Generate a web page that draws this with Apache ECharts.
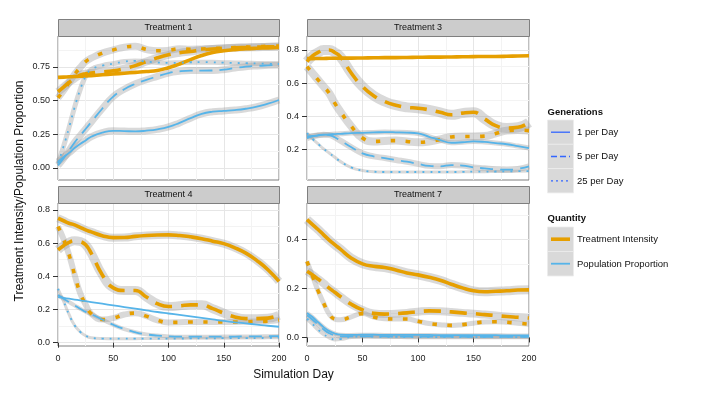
<!DOCTYPE html>
<html><head><meta charset="utf-8">
<script src="https://cdn.jsdelivr.net/npm/echarts@6/dist/echarts.min.js"></script>
<style>html,body{margin:0;padding:0;background:#fff}#c{width:709px;height:393px}</style>
</head><body><div id="c"></div>
<script>
// ---------- data ----------
const days = [0,5,10,15,20,25,30,40,50,60,70,80,90,100,110,120,130,140,150,160,170,180,190,200];
const panelTitles = ['Treatment 1','Treatment 3','Treatment 4','Treatment 7'];
const generationLabels = ['1 per Day','5 per Day','25 per Day'];
const quantityLabels = ['Treatment Intensity','Population Proportion'];
const xTicks = [0,50,100,150,200];
const xMinorTicks = [25,75,125,175];
const yTicks = [[0,0.25,0.5,0.75],[0.2,0.4,0.6,0.8],[0,0.2,0.4,0.6,0.8],[0,0.2,0.4]];
const yTickLabels = [['0.00','0.25','0.50','0.75'],['0.2','0.4','0.6','0.8'],['0.0','0.2','0.4','0.6','0.8'],['0.0','0.2','0.4']];
const yMinorTicks = [[0.125,0.375,0.625,0.875],[0.1,0.3,0.5,0.7],[0.1,0.3,0.5,0.7],[0.1,0.3,0.5]];
const xTitle = 'Simulation Day';
const yTitle = 'Treatment Intensity/Population Proportion';
const legendTitles = ['Generations','Quantity'];

// Treatment 1
const t1_ti_1  = [0.673,0.675,0.677,0.679,0.681,0.683,0.686,0.692,0.698,0.704,0.710,0.716,0.724,0.745,0.772,0.805,0.835,0.857,0.870,0.879,0.885,0.889,0.892,0.895];
const t1_ti_5  = [0.566,0.600,0.636,0.665,0.690,0.700,0.705,0.713,0.722,0.738,0.760,0.790,0.818,0.840,0.855,0.865,0.877,0.884,0.889,0.893,0.895,0.897,0.899,0.900];
const t1_ti_25 = [0.520,0.575,0.635,0.695,0.745,0.790,0.815,0.853,0.877,0.897,0.903,0.880,0.870,0.874,0.885,0.882,0.884,0.887,0.890,0.894,0.897,0.900,0.904,0.906];
const t1_pp_1  = [0.047,0.080,0.112,0.148,0.178,0.205,0.232,0.262,0.276,0.274,0.272,0.277,0.287,0.305,0.335,0.370,0.402,0.418,0.424,0.430,0.440,0.455,0.478,0.505];
const t1_pp_5  = [0.020,0.070,0.130,0.190,0.240,0.290,0.340,0.440,0.530,0.585,0.625,0.655,0.680,0.705,0.718,0.723,0.723,0.724,0.730,0.742,0.752,0.758,0.762,0.765];
const t1_pp_25 = [0.035,0.160,0.300,0.450,0.580,0.680,0.730,0.760,0.775,0.790,0.795,0.790,0.783,0.780,0.782,0.785,0.786,0.785,0.782,0.780,0.778,0.776,0.774,0.772];
// Treatment 3
const t3_ti_1  = [0.748,0.748,0.749,0.749,0.750,0.750,0.751,0.751,0.752,0.753,0.754,0.754,0.755,0.756,0.757,0.757,0.758,0.759,0.760,0.761,0.761,0.762,0.764,0.765];
const t3_ti_5  = [0.730,0.765,0.785,0.800,0.800,0.785,0.760,0.660,0.580,0.525,0.490,0.468,0.455,0.450,0.440,0.425,0.410,0.420,0.425,0.385,0.345,0.330,0.335,0.364];
const t3_ti_25 = [0.700,0.660,0.620,0.580,0.540,0.480,0.430,0.340,0.270,0.250,0.253,0.255,0.250,0.245,0.250,0.262,0.277,0.280,0.280,0.282,0.298,0.315,0.318,0.315];
const t3_pp_1  = [0.280,0.283,0.287,0.290,0.292,0.294,0.296,0.300,0.302,0.304,0.306,0.305,0.303,0.298,0.278,0.258,0.242,0.245,0.250,0.247,0.240,0.233,0.222,0.210];
const t3_pp_5  = [0.270,0.280,0.287,0.290,0.288,0.275,0.255,0.215,0.178,0.160,0.150,0.138,0.128,0.115,0.103,0.100,0.108,0.105,0.094,0.088,0.082,0.080,0.085,0.100];
const t3_pp_25 = [0.300,0.265,0.235,0.205,0.180,0.155,0.130,0.093,0.075,0.068,0.066,0.066,0.066,0.066,0.066,0.066,0.066,0.067,0.068,0.068,0.069,0.070,0.071,0.072];
// Treatment 4
const t4_ti_1  = [0.750,0.735,0.720,0.710,0.695,0.680,0.668,0.645,0.633,0.634,0.641,0.646,0.649,0.650,0.646,0.638,0.627,0.612,0.597,0.572,0.540,0.495,0.440,0.370];
const t4_ti_5  = [0.560,0.585,0.605,0.615,0.610,0.590,0.540,0.410,0.330,0.315,0.315,0.275,0.235,0.218,0.222,0.228,0.228,0.205,0.178,0.155,0.145,0.145,0.148,0.165];
const t4_ti_25 = [0.700,0.625,0.530,0.410,0.300,0.230,0.175,0.140,0.148,0.170,0.178,0.160,0.135,0.122,0.123,0.125,0.125,0.125,0.125,0.125,0.126,0.128,0.130,0.137];
const t4_pp_1  = [0.275,0.270,0.265,0.260,0.255,0.250,0.245,0.235,0.225,0.215,0.205,0.195,0.185,0.176,0.167,0.158,0.149,0.140,0.131,0.123,0.116,0.109,0.102,0.096];
const t4_pp_5  = [0.287,0.265,0.245,0.225,0.205,0.186,0.172,0.140,0.108,0.082,0.063,0.050,0.043,0.038,0.036,0.036,0.036,0.036,0.037,0.037,0.038,0.038,0.039,0.040];
const t4_pp_25 = [0.325,0.250,0.170,0.105,0.066,0.042,0.030,0.025,0.024,0.024,0.024,0.025,0.025,0.025,0.025,0.026,0.026,0.026,0.027,0.027,0.028,0.028,0.029,0.030];
// Treatment 7
const t7_ti_1  = [0.480,0.460,0.440,0.418,0.397,0.378,0.360,0.323,0.300,0.290,0.285,0.275,0.263,0.255,0.245,0.233,0.217,0.202,0.190,0.186,0.188,0.190,0.193,0.194];
const t7_ti_5  = [0.270,0.255,0.238,0.220,0.201,0.184,0.167,0.135,0.112,0.098,0.095,0.097,0.100,0.105,0.108,0.107,0.104,0.100,0.097,0.093,0.089,0.085,0.082,0.079];
const t7_ti_25 = [0.310,0.250,0.190,0.140,0.095,0.075,0.072,0.084,0.097,0.083,0.076,0.075,0.075,0.066,0.057,0.052,0.049,0.052,0.058,0.063,0.064,0.062,0.058,0.054];
const t7_pp_1  = [0.100,0.083,0.062,0.042,0.026,0.016,0.011,0.010,0.011,0.011,0.010,0.010,0.010,0.010,0.010,0.009,0.009,0.009,0.009,0.009,0.009,0.008,0.008,0.008];
const t7_pp_5  = [0.090,0.072,0.052,0.032,0.017,0.008,0.004,0.004,0.004,0.004,0.004,0.003,0.003,0.003,0.003,0.003,0.003,0.003,0.002,0.002,0.002,0.002,0.002,0.002];
const t7_pp_25 = [0.076,0.055,0.032,0.013,0.000,-0.008,-0.007,0.002,0.004,0.003,0.002,0.002,0.001,0.001,0.001,0.001,0.001,0.001,0.001,0.001,0.001,0.001,0.001,0.001];

const panelSeries = [
  [[t1_ti_1,t1_ti_5,t1_ti_25],[t1_pp_1,t1_pp_5,t1_pp_25]],
  [[t3_ti_1,t3_ti_5,t3_ti_25],[t3_pp_1,t3_pp_5,t3_pp_25]],
  [[t4_ti_1,t4_ti_5,t4_ti_25],[t4_pp_1,t4_pp_5,t4_pp_25]],
  [[t7_ti_1,t7_ti_5,t7_ti_25],[t7_pp_1,t7_pp_5,t7_pp_25]]
];

// ---------- layout / style ----------
const FONT = "'Liberation Sans', Arial, Helvetica, sans-serif";
const grids = [
  {left:58, top:36, width:221, height:144},
  {left:307, top:36, width:222, height:144},
  {left:58, top:203, width:221, height:143},
  {left:307, top:203, width:222, height:143}
];
const yRange = [[-0.089,0.98],[0.018,0.884],[-0.02,0.842],[-0.035,0.548]];
const qColor = ['#E69F00','#56B4E9'];
const qWidth = [3.6, 1.8];
// visual width (px) of the grey confidence band drawn under each curve [panel][quantity][generation]
const bandPx = [
  [[0,8,7],[7,7,5]],
  [[0,10,8],[5,6,3]],
  [[8,9,6],[0,4,3]],
  [[9,8,5],[4,4,4]]
];
const dashStyle = [
  ['solid',[17,9],[4.5,10.5]],
  ['solid',[13,7],[2,6]]
];

const option = {
  animation:false,
  backgroundColor:'#ffffff',
  textStyle:{fontFamily:FONT},
  grid: grids.map(g => Object.assign({show:true, borderColor:'#7F7F7F', borderWidth:1, backgroundColor:'#ffffff', containLabel:false}, g)),
  xAxis:[], yAxis:[], series:[], graphic:[]
};

grids.forEach((g,p) => {
  const bottom = p >= 2;
  option.xAxis.push({
    gridIndex:p, type:'value', min:0, max:200,
    axisLine:{show:false},
    axisTick:{show:bottom, length:5, lineStyle:{color:'#333'}, customValues:xTicks},
    axisLabel:{show:bottom, customValues:xTicks, fontSize:9, color:'#222', margin:8, fontFamily:FONT},
    splitLine:{show:true, lineStyle:{color:'#E6E6E6', width:1}}
  });
  option.xAxis.push({
    gridIndex:p, type:'value', min:0, max:200,
    axisLine:{show:false},
    axisTick:{show:false, customValues:xMinorTicks},
    axisLabel:{show:false, customValues:xMinorTicks},
    splitLine:{show:true, lineStyle:{color:'#F3F3F3', width:1}}
  });
  option.yAxis.push({
    gridIndex:p, type:'value', min:yRange[p][0], max:yRange[p][1], position:'left',
    axisLine:{show:false},
    axisTick:{show:true, length:5, lineStyle:{color:'#333'}, customValues:yTicks[p]},
    axisLabel:{show:true, customValues:yTicks[p], fontSize:9, color:'#222', margin:8, fontFamily:FONT,
      formatter:(v)=>{ const i = yTicks[p].findIndex(t => Math.abs(t - v) < 1e-6); return i >= 0 ? yTickLabels[p][i] : ''; }},
    splitLine:{show:true, lineStyle:{color:'#E6E6E6', width:1}}
  });
  option.yAxis.push({
    gridIndex:p, type:'value', min:yRange[p][0], max:yRange[p][1], position:'right',
    axisLine:{show:false},
    axisTick:{show:false, customValues:yMinorTicks[p]},
    axisLabel:{show:false, customValues:yMinorTicks[p]},
    splitLine:{show:true, lineStyle:{color:'#F3F3F3', width:1}}
  });
  // strips
  option.graphic.push({type:'rect', shape:{x:g.left+0.5, y:g.top-17+0.5, width:g.width, height:17},
    style:{fill:'#CCCCCC', stroke:'#7F7F7F', lineWidth:1}, z:10});
  option.graphic.push({type:'text', x:g.left+g.width/2, y:g.top-8.5,
    style:{text:panelTitles[p], fill:'#111', font:'9px '+FONT, textAlign:'center', textVerticalAlign:'middle'}, z:11});
});

// ribbons (grey bands) first
panelSeries.forEach((qs,p) => {
  qs.forEach((gens,q) => {
    gens.forEach((vals,gi) => {
      const w = bandPx[p][q][gi];
      if (!w) return;
      option.series.push({
        type:'line', xAxisIndex:p*2, yAxisIndex:p*2, z:2, silent:true,
        data: days.map((d,i) => [d, vals[i]]), smooth:0.5, symbol:'none', showSymbol:false,
        lineStyle:{color:'rgba(150,150,150,0.36)', width:w, cap:'butt', join:'round'},
        emphasis:{disabled:true}
      });
    });
  });
});
// lines
panelSeries.forEach((qs,p) => {
  qs.forEach((gens,q) => {
    gens.forEach((vals,gi) => {
      option.series.push({
        type:'line', xAxisIndex:p*2, yAxisIndex:p*2, z:3, silent:true,
        name: quantityLabels[q] + ' ' + generationLabels[gi],
        data: days.map((d,i) => [d, vals[i]]), smooth:0.5, symbol:'none', showSymbol:false,
        lineStyle:{color:qColor[q], width:qWidth[q], type:dashStyle[q][gi], cap:'butt', join:'round'},
        emphasis:{disabled:true}
      });
    });
  });
});

// axis titles
option.graphic.push({type:'text', x:293.5, y:374.5, style:{text:xTitle, fill:'#111', font:'12px '+FONT, textAlign:'center', textVerticalAlign:'middle'}});
option.graphic.push({type:'text', x:20, y:191, rotation:Math.PI/2, style:{text:yTitle, fill:'#111', font:'12px '+FONT, textAlign:'center', textVerticalAlign:'middle'}});

// legend (manual, ggplot style)
const LX = 547.5;
option.graphic.push({type:'text', x:LX, y:112, style:{text:legendTitles[0], fill:'#111', font:'bold 9.5px '+FONT, textVerticalAlign:'middle'}});
const genDash = ['solid',[6,3],[2,3]];
generationLabels.forEach((lab,i) => {
  const y0 = 120 + i*24.3;
  option.graphic.push({type:'rect', shape:{x:LX, y:y0, width:26, height:24.3}, style:{fill:'#D9D9D9', stroke:'#ECECEC', lineWidth:0.8}});
  option.graphic.push({type:'line', shape:{x1:LX+3.5, y1:y0+12.2, x2:LX+22.5, y2:y0+12.2}, style:{stroke:'#3366FF', lineWidth:1.3, lineDash: genDash[i]==='solid'?null:genDash[i]}});
  option.graphic.push({type:'text', x:LX+29.5, y:y0+12.5, style:{text:lab, fill:'#111', font:'9.5px '+FONT, textVerticalAlign:'middle'}});
});
option.graphic.push({type:'text', x:LX, y:218.5, style:{text:legendTitles[1], fill:'#111', font:'bold 9.5px '+FONT, textVerticalAlign:'middle'}});
quantityLabels.forEach((lab,i) => {
  const y0 = 227 + i*24.5;
  option.graphic.push({type:'rect', shape:{x:LX, y:y0, width:26, height:24.5}, style:{fill:'#D9D9D9', stroke:'#ECECEC', lineWidth:0.8}});
  option.graphic.push({type:'line', shape:{x1:LX+3.5, y1:y0+12.2, x2:LX+22.5, y2:y0+12.2}, style:{stroke:qColor[i], lineWidth:i===0?3.6:1.8}});
  option.graphic.push({type:'text', x:LX+29.5, y:y0+12.5, style:{text:lab, fill:'#111', font:'9.5px '+FONT, textVerticalAlign:'middle'}});
});

const chart = echarts.init(document.getElementById('c'), null, {renderer:'canvas'});
chart.setOption(option);
</script>
</body></html>
